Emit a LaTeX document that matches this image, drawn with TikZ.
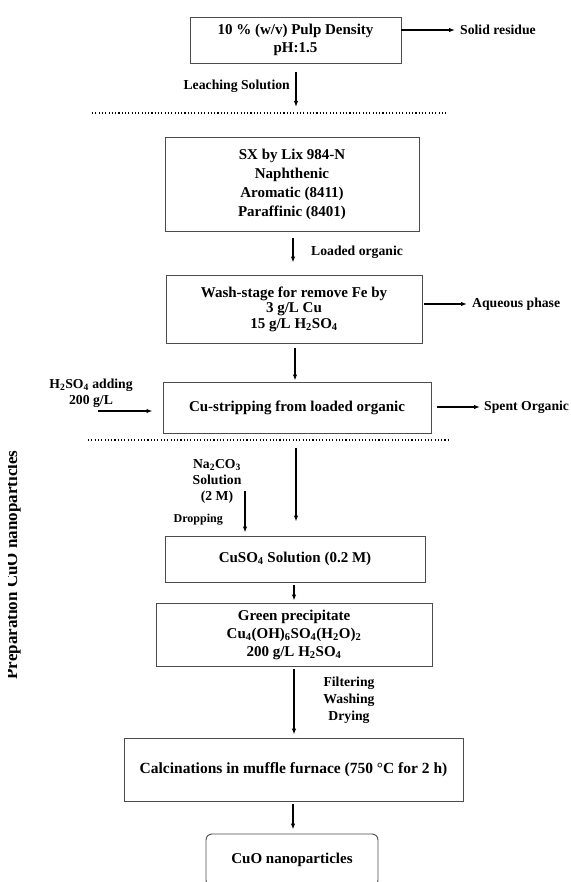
\documentclass[tikz,border=0pt]{standalone}
\usepackage{fontspec}
\setmainfont{Liberation Serif}
\usetikzlibrary{arrows.meta}
\begin{document}
\begin{tikzpicture}[x=1pt,y=-1pt,
  boxnode/.style={draw=black!70, line width=0.9pt, inner sep=0pt, align=center,
    font=\fontsize{15}{18}\selectfont\bfseries},
  lab/.style={inner sep=0pt, align=center, font=\fontsize{13.7}{16}\selectfont\bfseries},
  arr/.style={line width=1.5pt, -{Latex[length=6pt,width=4.5pt]}},
  dotline/.style={line width=1.3pt, dash pattern=on 1.1pt off 2.2pt}]
\useasboundingbox (0,0) rectangle (570,882);
\fill[white] (0,0) rectangle (570,882);

% side caption (cut along its left side, as in the source)
\begin{scope}
  \clip (8.5,300) rectangle (60,800);
  \node[rotate=90, anchor=base, inner sep=0pt, font=\fontsize{17}{17}\selectfont\bfseries] (side) at (17,565) {Preparation CuO nanoparticles};
\end{scope}

% boxes
\node[boxnode, minimum width=211pt, minimum height=46pt] (b1) at (295.5,40) {10 \% (w/v) Pulp Density\\pH:1.5};
\node[boxnode, minimum width=254pt, minimum height=94pt, font=\fontsize{15}{19}\selectfont\bfseries] (b2) at (292,184) {SX by Lix 984-N\\Naphthenic\\Aromatic (8411)\\Paraffinic (8401)};
\node[boxnode, minimum width=256pt, minimum height=68pt, font=\fontsize{15}{15.5}\selectfont\bfseries] (b3) at (294,309) {Wash-stage for remove Fe by\\3 g/L Cu\\15 g/L H\textsubscript{2}SO\textsubscript{4}};
\node[boxnode, minimum width=268pt, minimum height=51pt] (b4) at (297,407.5) {Cu-stripping from loaded organic};
\node[boxnode, minimum width=260pt, minimum height=46pt] (b5) at (295,559) {CuSO\textsubscript{4} Solution (0.2 M)};
\node[boxnode, minimum width=276pt, minimum height=63pt] (b6) at (294,634.5) {Green precipitate\\Cu\textsubscript{4}(OH)\textsubscript{6}SO\textsubscript{4}(H\textsubscript{2}O)\textsubscript{2}\\200 g/L H\textsubscript{2}SO\textsubscript{4}};
\node[boxnode, minimum width=339pt, minimum height=63pt, font=\fontsize{15.5}{18}\selectfont\bfseries] (b7) at (293.5,769.5) {Calcinations in muffle furnace (750 °C for 2 h)};
\node[boxnode, rounded corners=6pt, minimum width=172pt, minimum height=52pt] (b8) at (292,860) {CuO nanoparticles};

% side labels
\node[lab, anchor=west] (solid) at (460,30) {Solid residue};
\node[lab, anchor=east] (leach) at (290,86) {Leaching Solution};
\node[lab, anchor=west] (loaded) at (311,252) {Loaded organic};
\node[lab, anchor=west] (aq) at (472,304) {Aqueous phase};
\node[lab, anchor=west] (spent) at (484,407) {Spent Organic};
\node[lab] (acid) at (91,393) {H\textsubscript{2}SO\textsubscript{4} adding\\200 g/L};
\node[lab] (naco) at (217,481) {Na\textsubscript{2}CO\textsubscript{3}\\Solution\\(2 M)};
\node[lab, anchor=east, font=\fontsize{12}{14}\selectfont\bfseries] (drop) at (223,520) {Dropping};
\node[lab, font=\fontsize{13.7}{17}\selectfont\bfseries] (filt) at (349,700) {Filtering\\Washing\\Drying};

% dotted separators
\coordinate (dl1a) at (92,113); \coordinate (dl1b) at (448,113);
\coordinate (dl2a) at (88,440); \coordinate (dl2b) at (448,440);
\draw[dotline] (dl1a) -- (dl1b);
\draw[dotline] (dl2a) -- (dl2b);

% coordinates for arrows
\coordinate (xa) at (296,0);
\coordinate (xb) at (293,0);
\coordinate (xc) at (295,0);
\coordinate (xd) at (294,0);
\coordinate (leachend) at (296,107);
\coordinate (hstart) at (98,411);
\coordinate (dropstart) at (245,491);

% arrows
\draw[arr, shorten >=5pt] (b1.east |- solid.west) -- (solid.west);
\draw[arr, shorten <=9pt] (b1.south -| leachend) -- (leachend);
\draw[arr, shorten <=7pt, shorten >=12pt] (b2.south -| xb) -- (b3.north -| xb);
\draw[arr, shorten <=2pt, shorten >=5pt] (b3.east |- aq.west) -- (aq.west);
\draw[arr, shorten <=5pt, shorten >=1pt] (b3.south -| xc) -- (b4.north -| xc);
\draw[arr, shorten >=10pt] (hstart) -- (b4.west |- hstart);
\draw[arr, shorten <=6pt, shorten >=4pt] (b4.east |- spent.west) -- (spent.west);
\draw[arr, shorten <=15pt, shorten >=14pt] (b4.south -| xa) -- (b5.north -| xa);
\draw[arr, shorten >=3pt] (dropstart) -- (b5.north -| dropstart);
\draw[arr, shorten <=3pt, shorten >=2pt] (b5.south -| xd) -- (b6.north -| xd);
\draw[arr, shorten <=3pt, shorten >=3pt] (b6.south -| xd) -- (b7.north -| xd);
\draw[arr, shorten <=3pt, shorten >=4pt] (b7.south -| xb) -- (b8.north -| xb);
\end{tikzpicture}
\end{document}
